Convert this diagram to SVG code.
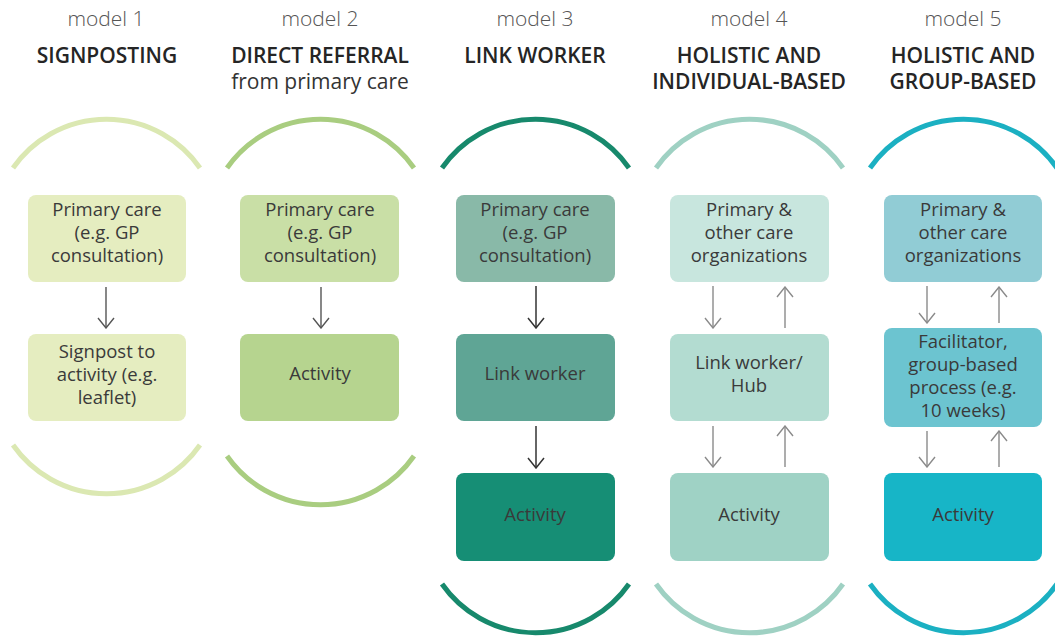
<svg xmlns="http://www.w3.org/2000/svg" width="1055" height="638" viewBox="0 0 1055 638">
<defs>
<style>
.model{font-family:"Open Sans","Liberation Sans",sans-serif;font-weight:300;font-size:21px;fill:#555;text-anchor:middle}
.title{font-family:"Open Sans","Liberation Sans",sans-serif;font-weight:600;font-size:21px;fill:#252525;text-anchor:middle}
.sub{font-family:"Open Sans","Liberation Sans",sans-serif;font-weight:400;font-size:21px;fill:#333;text-anchor:middle}
.lbl{font-family:"Open Sans","Liberation Sans",sans-serif;font-weight:400;font-size:18.5px;fill:#3a3a3a;text-anchor:middle}
.arc{fill:none;stroke-width:5;stroke-linecap:butt}
.a1{fill:none;stroke:#555;stroke-width:1.4}
.a3{fill:none;stroke:#333;stroke-width:1.5}
.a4{fill:none;stroke:#8a8a8a;stroke-width:1.4}
</style>
<marker id="h1" markerUnits="userSpaceOnUse" markerWidth="12" markerHeight="18" viewBox="0 0 12 18" refX="11" refY="9" orient="auto"><path d="M1,1 L11,9 L1,17" fill="none" stroke="#555" stroke-width="1.4"/></marker>
<marker id="h3" markerUnits="userSpaceOnUse" markerWidth="12" markerHeight="18" viewBox="0 0 12 18" refX="11" refY="9" orient="auto"><path d="M1,1 L11,9 L1,17" fill="none" stroke="#333" stroke-width="1.5"/></marker>
<marker id="h4" markerUnits="userSpaceOnUse" markerWidth="12" markerHeight="18" viewBox="0 0 12 18" refX="11" refY="9" orient="auto"><path d="M1,1 L11,9 L1,17" fill="none" stroke="#8a8a8a" stroke-width="1.4"/></marker>
</defs>
<rect width="1055" height="638" fill="#ffffff"/>

<g id="headers">
<text class="model" x="106" y="26">model 1</text>
<text class="title" x="107" y="63">SIGNPOSTING</text>
<text class="model" x="320" y="26">model 2</text>
<text class="title" x="320" y="63">DIRECT REFERRAL</text>
<text class="sub" x="320" y="89">from primary care</text>
<text class="model" x="535" y="26">model 3</text>
<text class="title" x="535" y="63">LINK WORKER</text>
<text class="model" x="749" y="26">model 4</text>
<text class="title" x="749" y="63">HOLISTIC AND</text>
<text class="title" x="749" y="89">INDIVIDUAL-BASED</text>
<text class="model" x="963" y="26">model 5</text>
<text class="title" x="963" y="63">HOLISTIC AND</text>
<text class="title" x="963" y="89">GROUP-BASED</text>
</g>

<g id="arcs">
<path class="arc" stroke="#dbe8b2" d="M13,168 A114,114 0 0 1 200,168"/>
<path class="arc" stroke="#dbe8b2" d="M13,445 A114,114 0 0 0 200,445"/>
<path class="arc" stroke="#a9cd80" d="M227,168 A114,114 0 0 1 414,168"/>
<path class="arc" stroke="#a9cd80" d="M227,456 A114,114 0 0 0 414,456"/>
<path class="arc" stroke="#17896c" d="M442,168 A114,114 0 0 1 629,168"/>
<path class="arc" stroke="#17896c" d="M442,584 A114,114 0 0 0 629,584"/>
<path class="arc" stroke="#9fd1c3" d="M656,168 A114,114 0 0 1 843,168"/>
<path class="arc" stroke="#9fd1c3" d="M656,584 A114,114 0 0 0 843,584"/>
<path class="arc" stroke="#1bb0c2" d="M870,168 A114,114 0 0 1 1057,168"/>
<path class="arc" stroke="#1bb0c2" d="M870,584 A114,114 0 0 0 1057,584"/>
</g>

<g id="m1-primary">
<rect x="28" y="195" width="158" height="87" rx="8" fill="#e5edc0"/>
<text class="lbl" x="107" y="216">Primary care</text>
<text class="lbl" x="107" y="239">(e.g. GP</text>
<text class="lbl" x="107" y="262">consultation)</text>
</g>
<g id="m1-signpost">
<rect x="28" y="334" width="158" height="87" rx="8" fill="#e5edc0"/>
<text class="lbl" x="107" y="358">Signpost to</text>
<text class="lbl" x="107" y="381">activity (e.g.</text>
<text class="lbl" x="107" y="404">leaflet)</text>
</g>

<g id="m2-primary">
<rect x="240" y="195" width="159" height="87" rx="8" fill="#c9dfa6"/>
<text class="lbl" x="320" y="216">Primary care</text>
<text class="lbl" x="320" y="239">(e.g. GP</text>
<text class="lbl" x="320" y="262">consultation)</text>
</g>
<g id="m2-activity">
<rect x="240" y="334" width="159" height="87" rx="8" fill="#b6d48f"/>
<text class="lbl" x="320" y="380">Activity</text>
</g>

<g id="m3-primary">
<rect x="456" y="195" width="159" height="87" rx="8" fill="#89b9a8"/>
<text class="lbl" x="535" y="216">Primary care</text>
<text class="lbl" x="535" y="239">(e.g. GP</text>
<text class="lbl" x="535" y="262">consultation)</text>
</g>
<g id="m3-linkworker">
<rect x="456" y="334" width="159" height="87" rx="8" fill="#5fa595"/>
<text class="lbl" x="535" y="380">Link worker</text>
</g>
<g id="m3-activity">
<rect x="456" y="473" width="159" height="88" rx="8" fill="#168e75"/>
<text class="lbl" x="535" y="521">Activity</text>
</g>

<g id="m4-primary">
<rect x="670" y="195" width="159" height="87" rx="8" fill="#c8e6de"/>
<text class="lbl" x="749" y="216">Primary &amp;</text>
<text class="lbl" x="749" y="239">other care</text>
<text class="lbl" x="749" y="262">organizations</text>
</g>
<g id="m4-hub">
<rect x="670" y="334" width="159" height="87" rx="8" fill="#b3dcd1"/>
<text class="lbl" x="749" y="369">Link worker/</text>
<text class="lbl" x="749" y="392">Hub</text>
</g>
<g id="m4-activity">
<rect x="670" y="473" width="159" height="88" rx="8" fill="#9fd2c5"/>
<text class="lbl" x="749" y="521">Activity</text>
</g>

<g id="m5-primary">
<rect x="884" y="195" width="158" height="87" rx="8" fill="#91ccd5"/>
<text class="lbl" x="963" y="216">Primary &amp;</text>
<text class="lbl" x="963" y="239">other care</text>
<text class="lbl" x="963" y="262">organizations</text>
</g>
<g id="m5-facilitator">
<rect x="884" y="328" width="158" height="99" rx="8" fill="#6cc4d0"/>
<text class="lbl" x="963" y="348">Facilitator,</text>
<text class="lbl" x="963" y="371">group-based</text>
<text class="lbl" x="963" y="394">process (e.g.</text>
<text class="lbl" x="963" y="417">10 weeks)</text>
</g>
<g id="m5-activity">
<rect x="884" y="473" width="158" height="88" rx="8" fill="#17b5c7"/>
<text class="lbl" x="963" y="521">Activity</text>
</g>

<g id="connectors">
<path class="a1" d="M106,287 V328" marker-end="url(#h1)"/>
<path class="a1" d="M321,287 V328" marker-end="url(#h1)"/>
<path class="a3" d="M536,286 V328" marker-end="url(#h3)"/>
<path class="a3" d="M536,426 V468" marker-end="url(#h3)"/>
<path class="a4" d="M713,286 V328" marker-end="url(#h4)"/>
<path class="a4" d="M785,328 V287" marker-end="url(#h4)"/>
<path class="a4" d="M713,426 V467" marker-end="url(#h4)"/>
<path class="a4" d="M785,467 V426" marker-end="url(#h4)"/>
<path class="a4" d="M927,286 V323" marker-end="url(#h4)"/>
<path class="a4" d="M999,323 V287" marker-end="url(#h4)"/>
<path class="a4" d="M927,431 V467" marker-end="url(#h4)"/>
<path class="a4" d="M999,467 V431" marker-end="url(#h4)"/>
</g>
</svg>
